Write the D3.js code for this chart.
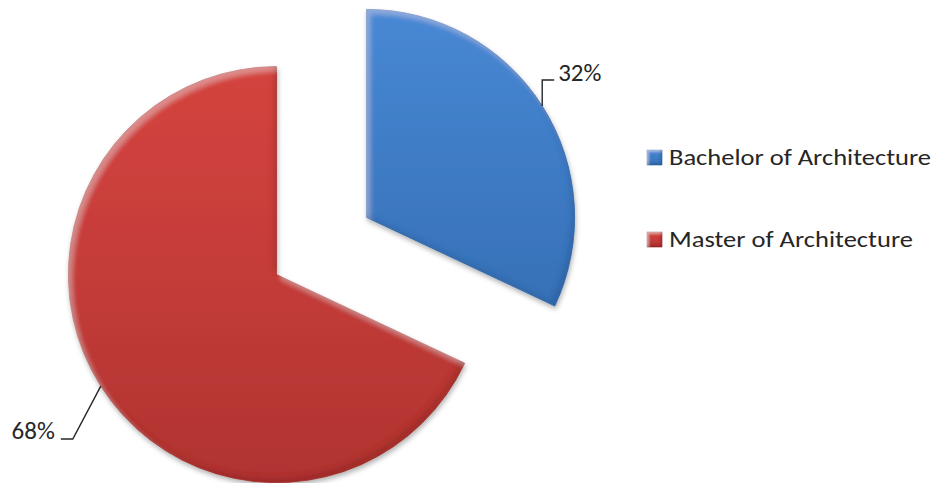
<!DOCTYPE html>
<html>
<head>
<meta charset="utf-8">
<script src="https://cdn.jsdelivr.net/npm/d3@7/dist/d3.min.js"></script>
<style>
  html, body { margin: 0; padding: 0; background: #fff; }
  svg { display: block; }
  text { font-family: Carlito, Calibri, Lato, "Open Sans", sans-serif; fill: #262626; }
</style>
</head>
<body>
<svg id="chart" width="938" height="483"></svg>
<script>
// Degree programme shares
const categories = ["Bachelor of Architecture", "Master of Architecture"];
const values = [32, 68];
const labels = ["32%", "68%"];
const colors = ["#3f7cc6", "#c43c39"];
const lightColors = ["#4888d4", "#d4443f"];
const darkColors = ["#3670b6", "#b03330"];

const cx = 321.5, cy = 246;
const radius = 208;
const explode = 53.4;

const svg = d3.select("#chart");
const defs = svg.append("defs");

// Drop shadow + bevel band along the slice edges
function bevelFilter(id, blur, shift, hiOp, shOp, drop) {
  const f = defs.append("filter").attr("id", id)
    .attr("x", "-15%").attr("y", "-15%").attr("width", "130%").attr("height", "130%");
  f.append("feGaussianBlur").attr("in", "SourceAlpha").attr("stdDeviation", blur).attr("result", "b");
  f.append("feOffset").attr("in", "b").attr("dx", shift * 0.8).attr("dy", shift).attr("result", "bo1");
  f.append("feComposite").attr("in", "SourceAlpha").attr("in2", "bo1")
    .attr("operator", "arithmetic").attr("k2", 1).attr("k3", -1).attr("result", "hlA");
  f.append("feFlood").attr("flood-color", "#ffffff").attr("flood-opacity", hiOp).attr("result", "white");
  f.append("feComposite").attr("in", "white").attr("in2", "hlA").attr("operator", "in").attr("result", "hl");
  f.append("feOffset").attr("in", "b").attr("dx", -shift * 0.8).attr("dy", -shift).attr("result", "bo2");
  f.append("feComposite").attr("in", "SourceAlpha").attr("in2", "bo2")
    .attr("operator", "arithmetic").attr("k2", 1).attr("k3", -1).attr("result", "shA");
  f.append("feFlood").attr("flood-color", "#000000").attr("flood-opacity", shOp).attr("result", "black");
  f.append("feComposite").attr("in", "black").attr("in2", "shA").attr("operator", "in").attr("result", "sh");
  const m = f.append("feMerge");
  if (drop) {
    f.append("feGaussianBlur").attr("in", "SourceAlpha").attr("stdDeviation", 2.5).attr("result", "db");
    f.append("feOffset").attr("in", "db").attr("dx", 1).attr("dy", 3).attr("result", "dbo");
    f.append("feFlood").attr("flood-color", "#000000").attr("flood-opacity", 0.3).attr("result", "dcol");
    f.append("feComposite").attr("in", "dcol").attr("in2", "dbo").attr("operator", "in").attr("result", "drop");
    f.node().appendChild(m.node());
    m.append("feMergeNode").attr("in", "drop");
  }
  m.append("feMergeNode").attr("in", "SourceGraphic");
  m.append("feMergeNode").attr("in", "hl");
  m.append("feMergeNode").attr("in", "sh");
}
bevelFilter("bevel", 2.8, 5, 0.22, 0.2, true);
bevelFilter("keyBevel", 1.2, 2, 0.35, 0.3, false);

// Vertical shading per series
categories.forEach((c, i) => {
  const g = defs.append("linearGradient").attr("id", "grad" + i)
    .attr("x1", 0).attr("y1", 0).attr("x2", 0).attr("y2", 1);
  g.append("stop").attr("offset", "0%").attr("stop-color", lightColors[i]);
  g.append("stop").attr("offset", "50%").attr("stop-color", colors[i]);
  g.append("stop").attr("offset", "100%").attr("stop-color", darkColors[i]);
});

const pie = d3.pie().sort(null).value(d => d)(values);
const arc = d3.arc().innerRadius(0).outerRadius(radius);

const slices = svg.append("g").attr("class", "slices");
pie.forEach((p, i) => {
  const mid = (p.startAngle + p.endAngle) / 2;
  const ox = cx + Math.sin(mid) * explode;
  const oy = cy - Math.cos(mid) * explode;
  slices.append("path")
    .attr("d", arc(p))
    .attr("transform", `translate(${ox},${oy})`)
    .attr("fill", `url(#grad${i})`)
    .attr("stroke", darkColors[i])
    .attr("stroke-width", 0.8)
    .attr("filter", "url(#bevel)");
});

// Data labels with leader lines from the arc midpoint
const leaderLayout = [
  { bend: [0, -26], end: [12, -26], anchor: "start", tdx: 16, tdy: -25 },
  { bend: [-28, 53], end: [-40, 53], anchor: "end", tdx: -46, tdy: 53 }
];
const labelG = svg.append("g").attr("class", "labels");
pie.forEach((p, i) => {
  const mid = (p.startAngle + p.endAngle) / 2;
  const ox = cx + Math.sin(mid) * explode;
  const oy = cy - Math.cos(mid) * explode;
  const ax = ox + Math.sin(mid) * radius;
  const ay = oy - Math.cos(mid) * radius;
  const L = leaderLayout[i];
  const pts = [[ax, ay], [ax + L.bend[0], ay + L.bend[1]], [ax + L.end[0], ay + L.end[1]]];
  labelG.append("path")
    .attr("d", d3.line()(pts))
    .attr("fill", "none")
    .attr("stroke", "#262626")
    .attr("stroke-width", 1.4);
  labelG.append("text")
    .attr("x", ax + L.tdx)
    .attr("y", ay + L.tdy)
    .attr("text-anchor", L.anchor)
    .attr("font-size", 25)
    .text(labels[i]);
});

// Legend
const legend = svg.append("g").attr("class", "legend").attr("transform", "translate(647,150)");
const legendWidths = [262, 244];
categories.forEach((c, i) => {
  const row = legend.append("g").attr("transform", `translate(0,${i * 82})`);
  row.append("rect")
    .attr("width", 15).attr("height", 15)
    .attr("fill", `url(#grad${i})`)
    .attr("stroke", darkColors[i]).attr("stroke-width", 0.5)
    .attr("filter", "url(#keyBevel)");
  row.append("text")
    .attr("x", 22).attr("y", 15)
    .attr("font-size", 23)
    .attr("textLength", legendWidths[i])
    .attr("lengthAdjust", "spacingAndGlyphs")
    .text(c);
});
</script>
</body>
</html>
